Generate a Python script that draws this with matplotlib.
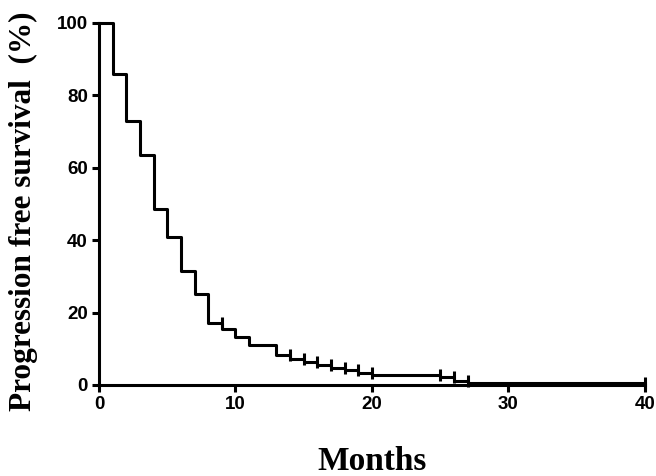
import matplotlib
matplotlib.use('Agg')
import matplotlib.pyplot as plt

# Kaplan-Meier step data
months = [0, 1, 2, 3, 4, 5, 6, 7, 8, 9, 10, 11, 13, 14, 15, 16, 17, 18, 19, 20, 25, 26, 27, 40]
survival = [100, 86, 72.8, 63.6, 48.6, 40.9, 31.6, 25.2, 17.0, 15.5, 13.3, 11.0, 8.2,
            7.2, 6.3, 5.5, 4.8, 4.1, 3.4, 2.8, 2.1, 1.2, 0.5, 0.5]
# censored points (time, level)
cens_t = [9, 14, 15, 16, 17, 18, 19, 20, 25, 26, 27, 40]
cens_s = [17.0, 8.2, 7.2, 6.3, 5.5, 4.8, 4.1, 3.4, 2.8, 2.1, 1.2, 0.5]

xticks = [0, 10, 20, 30, 40]
yticks = [0, 20, 40, 60, 80, 100]

fig = plt.figure(figsize=(6.56, 4.76), dpi=100)
ax = fig.add_axes([0.1509, 0.1912, 0.8323, 0.7605])

ax.step(months, survival, where='post', color='black', lw=2.2, clip_on=False, zorder=3)
ax.plot(cens_t, cens_s, ls='none', marker='|', ms=8, mew=2.2, color='black',
        clip_on=False, zorder=3)

ax.set_xlim(0, 40)
ax.set_ylim(0, 100)
ax.set_xticks(xticks)
ax.set_yticks(yticks)

for side in ['top', 'right']:
    ax.spines[side].set_visible(False)
for side in ['left', 'bottom']:
    ax.spines[side].set_linewidth(2.2)

ax.tick_params(direction='out', length=5, width=2.2, pad=3)
for lab in ax.get_xticklabels() + ax.get_yticklabels():
    lab.set_fontfamily('Liberation Sans')
    lab.set_fontweight('bold')
    lab.set_fontsize(13.5)

ax.set_xlabel('Months', fontfamily='Liberation Serif', fontweight='bold', fontsize=24, labelpad=24)
ax.set_ylabel('Progression free survival  (%)', fontfamily='Liberation Serif',
              fontweight='bold', fontsize=22.5)
ax.yaxis.set_label_coords(-0.112, 0.48)

fig.savefig('out.png', dpi=100)
